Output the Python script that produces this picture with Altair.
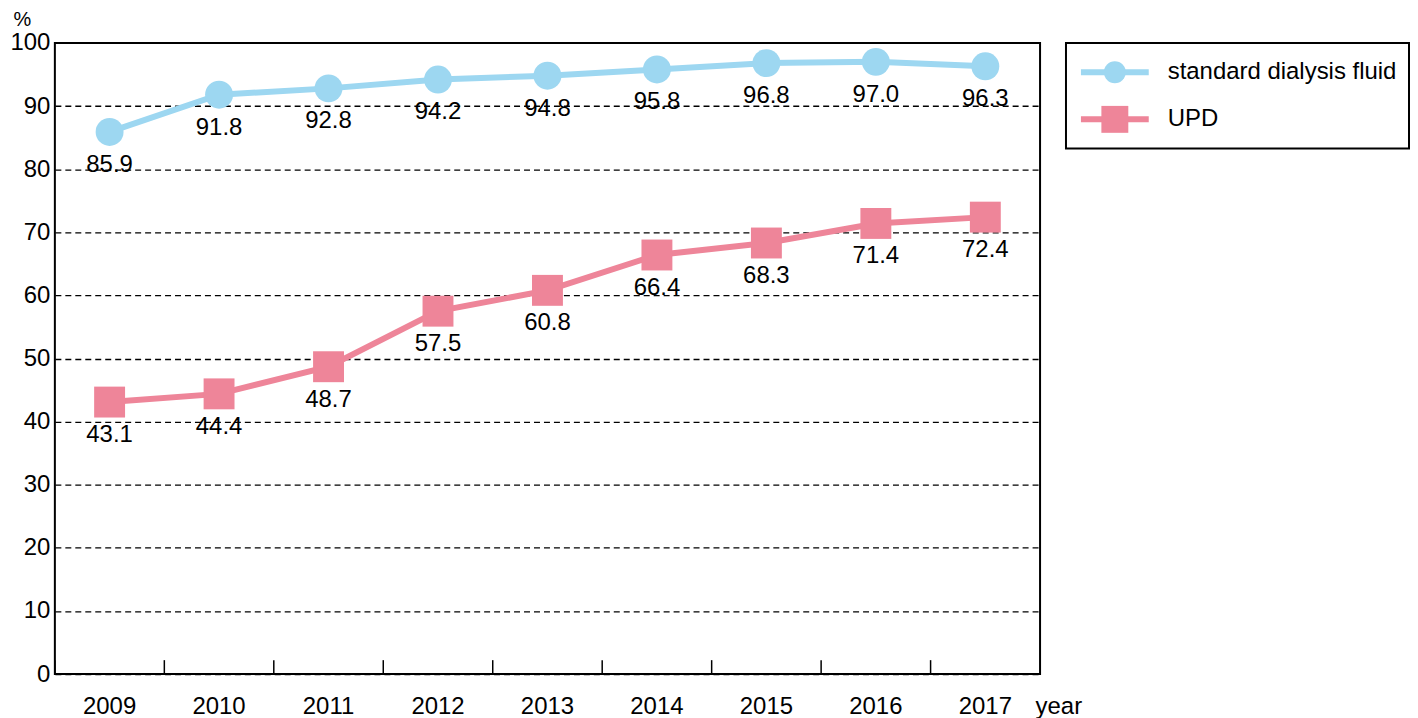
import altair as alt
import pandas as pd

years = ["2009", "2010", "2011", "2012", "2013", "2014", "2015", "2016", "2017"]
standard = [85.9, 91.8, 92.8, 94.2, 94.8, 95.8, 96.8, 97.0, 96.3]
upd = [43.1, 44.4, 48.7, 57.5, 60.8, 66.4, 68.3, 71.4, 72.4]
series_names = ["standard dialysis fluid", "UPD"]
colors = ["#9dd7f1", "#ee8599"]
shapes = ["circle", "square"]

rows = []
for y, v in zip(years, standard):
    rows.append({"year": y, "series": series_names[0], "value": v})
for y, v in zip(years, upd):
    rows.append({"year": y, "series": series_names[1], "value": v})
df = pd.DataFrame(rows)
legend_df = pd.DataFrame({"series": series_names})

FONT = "Liberation Sans"
W, H = 988, 633

xenc = alt.X(
    "year:O",
    sort=years,
    bandPosition=0.5,
    scale=alt.Scale(type="band", paddingInner=0, paddingOuter=0),
    axis=alt.Axis(
        title="year", titleX=983, titleY=20, titleAlign="left", titleBaseline="top",
        titleFontSize=24, titleFontWeight="normal", titleFont=FONT,
        labelFontSize=24, labelFont=FONT, labelPadding=20, labelAngle=0,
        ticks=False, domain=False, grid=False, labelColor="black", titleColor="black",
    ),
)
yenc = alt.Y(
    "value:Q",
    scale=alt.Scale(domain=[0, 100], nice=False, zero=True),
    axis=alt.Axis(
        title="%", titleAngle=0, titleX=-33, titleY=-23, titleAlign="center",
        titleBaseline="middle", titleFontSize=20, titleFontWeight="normal", titleFont=FONT,
        values=[0, 10, 20, 30, 40, 50, 60, 70, 80, 90, 100],
        labelFontSize=24, labelFont=FONT, labelPadding=5, ticks=False, domain=False,
        grid=True, gridColor="black", gridDash=[6, 4], gridWidth=1.3,
        labelColor="black", titleColor="black",
    ),
)
color_enc = alt.Color(
    "series:N", legend=None,
    scale=alt.Scale(domain=series_names, range=colors),
)

base = alt.Chart(df)

lines = base.mark_line(strokeWidth=6).encode(x=xenc, y=yenc, color=color_enc, detail="series:N")

circles = base.transform_filter(alt.datum.series == series_names[0]).mark_point(
    shape="circle", filled=True, opacity=1, size=784, strokeWidth=0
).encode(x=xenc, y=yenc, color=color_enc)

squares = base.transform_filter(alt.datum.series == series_names[1]).mark_point(
    shape="square", filled=True, opacity=1, size=961, strokeWidth=0
).encode(x=xenc, y=yenc, color=color_enc)

labels = base.mark_text(
    dy=33, fontSize=24, font=FONT, color="black", baseline="middle", align="center"
).encode(x=xenc, y=yenc, text=alt.Text("value:Q", format=".1f"))

ticks = alt.Chart(pd.DataFrame({"year": years})).mark_rule(
    color="black", strokeWidth=1.5
).encode(
    x=alt.X("year:O", sort=years, bandPosition=0,
            scale=alt.Scale(type="band", paddingInner=0, paddingOuter=0)),
    y=alt.value(H - 14),
    y2=alt.value(H),
)

main = alt.layer(lines, circles, squares, labels, ticks).properties(width=W, height=H)

# ---- legend panel ----
ly = alt.Y("series:N", sort=series_names, axis=None,
           scale=alt.Scale(type="point", domain=series_names, padding=0.62))
lbase = alt.Chart(legend_df)
leg_lines = lbase.mark_rule(strokeWidth=6).encode(
    x=alt.value(15), x2=alt.value(83), y=ly, color=color_enc
)
leg_pts = lbase.mark_point(filled=True, opacity=1, strokeWidth=0).encode(
    x=alt.value(49), y=ly, color=color_enc,
    shape=alt.Shape("series:N", legend=None,
                    scale=alt.Scale(domain=series_names, range=shapes)),
    size=alt.Size("series:N", legend=None,
                  scale=alt.Scale(domain=series_names, range=[484, 729])),
)
leg_text = lbase.mark_text(
    align="left", baseline="middle", fontSize=24, font=FONT, color="black"
).encode(x=alt.value(102), y=ly, text="series:N")
legend_panel = alt.layer(leg_lines, leg_pts, leg_text).properties(width=344, height=106)

chart = alt.hconcat(main, legend_panel, spacing=26, bounds="flush").properties(
    padding={"left": 0, "top": 0, "right": 0, "bottom": 0}
).configure_view(
    stroke="black", strokeWidth=2
)

chart.save("out.html", embed_options={"renderer": "svg", "actions": False})
